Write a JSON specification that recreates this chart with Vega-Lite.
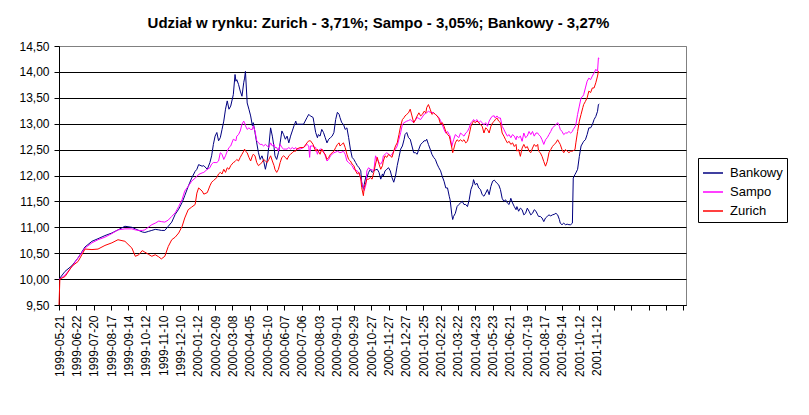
{
  "$schema": "https://vega.github.io/schema/vega-lite/v6.json",
  "description": "Market share index lines for Bankowy, Sampo and Zurich, May 1999 - Nov 2001.",
  "autosize": {"type": "none"},
  "width": 627,
  "height": 259,
  "padding": {"left": 59, "top": 46, "right": 123, "bottom": 110},
  "background": "white",
  "config": {
    "font": "Liberation Sans",
    "view": {"stroke": "#808080", "strokeWidth": 1},
    "axis": {"labelColor": "black", "labelFontSize": 12, "domainColor": "black", "tickColor": "black", "tickSize": 5, "title": null}
  },
  "title": {
    "text": "Udział w rynku: Zurich - 3,71%; Sampo - 3,05%; Bankowy - 3,27%",
    "fontSize": 15,
    "fontWeight": "bold",
    "color": "black",
    "anchor": "middle",
    "dx": 6,
    "offset": 9
  },
  "data": {
    "values": [
      {"day": 0, "Bankowy": 10.0, "Sampo": 10.0, "Zurich": 9.5},
      {"day": 1, "Bankowy": 10.02, "Sampo": 10.0, "Zurich": 10.0},
      {"day": 7, "Bankowy": 10.15, "Sampo": 10.08, "Zurich": 10.05},
      {"day": 15, "Bankowy": 10.26, "Sampo": 10.24, "Zurich": 10.25},
      {"day": 22, "Bankowy": 10.41, "Sampo": 10.41, "Zurich": 10.34},
      {"day": 30, "Bankowy": 10.62, "Sampo": 10.6, "Zurich": 10.58},
      {"day": 38, "Bankowy": 10.73, "Sampo": 10.7, "Zurich": 10.57},
      {"day": 45, "Bankowy": 10.78, "Sampo": 10.76, "Zurich": 10.58},
      {"day": 53, "Bankowy": 10.84, "Sampo": 10.81, "Zurich": 10.65},
      {"day": 61, "Bankowy": 10.89, "Sampo": 10.88, "Zurich": 10.7},
      {"day": 68, "Bankowy": 10.95, "Sampo": 10.95, "Zurich": 10.76},
      {"day": 76, "Bankowy": 11.02, "Sampo": 10.97, "Zurich": 10.73},
      {"day": 84, "Bankowy": 11.0, "Sampo": 10.97, "Zurich": 10.6},
      {"day": 88, "Bankowy": 10.97, "Sampo": 10.95, "Zurich": 10.44},
      {"day": 92, "Bankowy": 10.94, "Sampo": 10.94, "Zurich": 10.47},
      {"day": 96, "Bankowy": 10.91, "Sampo": 10.94, "Zurich": 10.55},
      {"day": 99, "Bankowy": 10.9, "Sampo": 10.95, "Zurich": 10.52},
      {"day": 103, "Bankowy": 10.92, "Sampo": 11.0, "Zurich": 10.48},
      {"day": 107, "Bankowy": 10.94, "Sampo": 11.05, "Zurich": 10.44},
      {"day": 111, "Bankowy": 10.96, "Sampo": 11.08, "Zurich": 10.47},
      {"day": 115, "Bankowy": 10.95, "Sampo": 11.12, "Zurich": 10.43},
      {"day": 118, "Bankowy": 10.94, "Sampo": 11.11, "Zurich": 10.39},
      {"day": 122, "Bankowy": 10.94, "Sampo": 11.1, "Zurich": 10.44},
      {"day": 126, "Bankowy": 11.02, "Sampo": 11.14, "Zurich": 10.63},
      {"day": 130, "Bankowy": 11.1, "Sampo": 11.21, "Zurich": 10.76},
      {"day": 134, "Bankowy": 11.25, "Sampo": 11.28, "Zurich": 10.81},
      {"day": 138, "Bankowy": 11.35, "Sampo": 11.4, "Zurich": 10.89},
      {"day": 142, "Bankowy": 11.48, "Sampo": 11.54, "Zurich": 11.02},
      {"day": 145, "Bankowy": 11.61, "Sampo": 11.7, "Zurich": 11.18},
      {"day": 149, "Bankowy": 11.79, "Sampo": 11.79, "Zurich": 11.34},
      {"day": 153, "Bankowy": 11.95, "Sampo": 11.89, "Zurich": 11.39},
      {"day": 157, "Bankowy": 12.08, "Sampo": 11.95, "Zurich": 11.44},
      {"day": 159, "Bankowy": 12.12, "Sampo": 11.98, "Zurich": 11.66},
      {"day": 161, "Bankowy": 12.21, "Sampo": 12.02, "Zurich": 11.76},
      {"day": 165, "Bankowy": 12.18, "Sampo": 12.05, "Zurich": 11.7},
      {"day": 167, "Bankowy": 12.19, "Sampo": 12.06, "Zurich": 11.64},
      {"day": 171, "Bankowy": 12.12, "Sampo": 12.12, "Zurich": 11.67},
      {"day": 174, "Bankowy": 12.25, "Sampo": 12.15, "Zurich": 11.8},
      {"day": 176, "Bankowy": 12.38, "Sampo": 12.22, "Zurich": 11.87},
      {"day": 178, "Bankowy": 12.6, "Sampo": 12.25, "Zurich": 11.9},
      {"day": 180, "Bankowy": 12.76, "Sampo": 12.25, "Zurich": 11.93},
      {"day": 182, "Bankowy": 12.83, "Sampo": 12.25, "Zurich": 11.96},
      {"day": 184, "Bankowy": 12.67, "Sampo": 12.28, "Zurich": 12.03},
      {"day": 186, "Bankowy": 12.73, "Sampo": 12.44, "Zurich": 12.06},
      {"day": 188, "Bankowy": 12.89, "Sampo": 12.41, "Zurich": 12.03},
      {"day": 190, "Bankowy": 13.05, "Sampo": 12.31, "Zurich": 12.12},
      {"day": 192, "Bankowy": 13.28, "Sampo": 12.38, "Zurich": 12.06},
      {"day": 194, "Bankowy": 13.44, "Sampo": 12.47, "Zurich": 12.15},
      {"day": 196, "Bankowy": 13.28, "Sampo": 12.54, "Zurich": 12.12},
      {"day": 198, "Bankowy": 13.34, "Sampo": 12.57, "Zurich": 12.19},
      {"day": 201, "Bankowy": 13.56, "Sampo": 12.7, "Zurich": 12.25},
      {"day": 203, "Bankowy": 13.95, "Sampo": 12.68, "Zurich": 12.27},
      {"day": 204, "Bankowy": 13.82, "Sampo": 12.67, "Zurich": 12.29},
      {"day": 205, "Bankowy": 13.85, "Sampo": 12.76, "Zurich": 12.31},
      {"day": 207, "Bankowy": 13.76, "Sampo": 12.79, "Zurich": 12.28},
      {"day": 209, "Bankowy": 13.63, "Sampo": 12.86, "Zurich": 12.35},
      {"day": 211, "Bankowy": 13.53, "Sampo": 12.99, "Zurich": 12.41},
      {"day": 213, "Bankowy": 13.79, "Sampo": 13.05, "Zurich": 12.47},
      {"day": 214, "Bankowy": 13.88, "Sampo": 13.02, "Zurich": 12.51},
      {"day": 215, "Bankowy": 14.01, "Sampo": 12.96, "Zurich": 12.47},
      {"day": 217, "Bankowy": 13.4, "Sampo": 12.89, "Zurich": 12.44},
      {"day": 219, "Bankowy": 13.28, "Sampo": 12.92, "Zurich": 12.35},
      {"day": 221, "Bankowy": 13.15, "Sampo": 12.89, "Zurich": 12.28},
      {"day": 223, "Bankowy": 12.96, "Sampo": 12.89, "Zurich": 12.38},
      {"day": 224, "Bankowy": 13.02, "Sampo": 12.96, "Zurich": 12.41},
      {"day": 226, "Bankowy": 12.83, "Sampo": 12.86, "Zurich": 12.38},
      {"day": 228, "Bankowy": 12.63, "Sampo": 12.67, "Zurich": 12.25},
      {"day": 230, "Bankowy": 12.44, "Sampo": 12.63, "Zurich": 12.19},
      {"day": 232, "Bankowy": 12.31, "Sampo": 12.6, "Zurich": 12.22},
      {"day": 234, "Bankowy": 12.38, "Sampo": 12.6, "Zurich": 12.25},
      {"day": 236, "Bankowy": 12.28, "Sampo": 12.57, "Zurich": 12.31},
      {"day": 238, "Bankowy": 12.12, "Sampo": 12.6, "Zurich": 12.28},
      {"day": 240, "Bankowy": 12.28, "Sampo": 12.57, "Zurich": 12.25},
      {"day": 242, "Bankowy": 12.57, "Sampo": 12.54, "Zurich": 12.31},
      {"day": 244, "Bankowy": 12.92, "Sampo": 12.63, "Zurich": 12.38},
      {"day": 246, "Bankowy": 12.76, "Sampo": 12.57, "Zurich": 12.28},
      {"day": 248, "Bankowy": 12.54, "Sampo": 12.6, "Zurich": 12.19},
      {"day": 249, "Bankowy": 12.38, "Sampo": 12.54, "Zurich": 12.12},
      {"day": 251, "Bankowy": 12.31, "Sampo": 12.54, "Zurich": 12.06},
      {"day": 253, "Bankowy": 12.44, "Sampo": 12.47, "Zurich": 12.12},
      {"day": 255, "Bankowy": 12.63, "Sampo": 12.6, "Zurich": 12.25},
      {"day": 257, "Bankowy": 12.86, "Sampo": 12.54, "Zurich": 12.35},
      {"day": 259, "Bankowy": 12.79, "Sampo": 12.51, "Zurich": 12.38},
      {"day": 261, "Bankowy": 12.7, "Sampo": 12.51, "Zurich": 12.35},
      {"day": 263, "Bankowy": 12.76, "Sampo": 12.51, "Zurich": 12.31},
      {"day": 265, "Bankowy": 12.63, "Sampo": 12.54, "Zurich": 12.38},
      {"day": 267, "Bankowy": 12.76, "Sampo": 12.51, "Zurich": 12.41},
      {"day": 269, "Bankowy": 12.86, "Sampo": 12.54, "Zurich": 12.44},
      {"day": 271, "Bankowy": 12.96, "Sampo": 12.51, "Zurich": 12.47},
      {"day": 273, "Bankowy": 13.05, "Sampo": 12.54, "Zurich": 12.47},
      {"day": 274, "Bankowy": 12.99, "Sampo": 12.51, "Zurich": 12.51},
      {"day": 278, "Bankowy": 12.99, "Sampo": 12.51, "Zurich": 12.54},
      {"day": 282, "Bankowy": 12.99, "Sampo": 12.54, "Zurich": 12.54},
      {"day": 286, "Bankowy": 13.12, "Sampo": 12.6, "Zurich": 12.63},
      {"day": 288, "Bankowy": 13.18, "Sampo": 12.57, "Zurich": 12.67},
      {"day": 289, "Bankowy": 13.16, "Sampo": 12.35, "Zurich": 12.67},
      {"day": 290, "Bankowy": 13.15, "Sampo": 12.57, "Zurich": 12.67},
      {"day": 293, "Bankowy": 13.12, "Sampo": 12.57, "Zurich": 12.6},
      {"day": 294, "Bankowy": 13.02, "Sampo": 12.55, "Zurich": 12.55},
      {"day": 296, "Bankowy": 12.83, "Sampo": 12.54, "Zurich": 12.47},
      {"day": 298, "Bankowy": 12.73, "Sampo": 12.41, "Zurich": 12.51},
      {"day": 299, "Bankowy": 12.79, "Sampo": 12.47, "Zurich": 12.47},
      {"day": 301, "Bankowy": 12.76, "Sampo": 12.51, "Zurich": 12.41},
      {"day": 303, "Bankowy": 12.89, "Sampo": 12.51, "Zurich": 12.51},
      {"day": 305, "Bankowy": 12.83, "Sampo": 12.47, "Zurich": 12.44},
      {"day": 307, "Bankowy": 12.73, "Sampo": 12.38, "Zurich": 12.41},
      {"day": 309, "Bankowy": 12.63, "Sampo": 12.28, "Zurich": 12.31},
      {"day": 311, "Bankowy": 12.7, "Sampo": 12.31, "Zurich": 12.35},
      {"day": 313, "Bankowy": 12.73, "Sampo": 12.38, "Zurich": 12.41},
      {"day": 315, "Bankowy": 12.76, "Sampo": 12.41, "Zurich": 12.44},
      {"day": 317, "Bankowy": 12.83, "Sampo": 12.44, "Zurich": 12.47},
      {"day": 319, "Bankowy": 13.08, "Sampo": 12.45, "Zurich": 12.54},
      {"day": 321, "Bankowy": 13.22, "Sampo": 12.47, "Zurich": 12.6},
      {"day": 323, "Bankowy": 13.18, "Sampo": 12.45, "Zurich": 12.63},
      {"day": 324, "Bankowy": 13.12, "Sampo": 12.44, "Zurich": 12.57},
      {"day": 326, "Bankowy": 13.02, "Sampo": 12.45, "Zurich": 12.6},
      {"day": 328, "Bankowy": 12.99, "Sampo": 12.47, "Zurich": 12.63},
      {"day": 330, "Bankowy": 12.89, "Sampo": 12.41, "Zurich": 12.54},
      {"day": 332, "Bankowy": 12.92, "Sampo": 12.28, "Zurich": 12.41},
      {"day": 334, "Bankowy": 12.73, "Sampo": 12.25, "Zurich": 12.31},
      {"day": 336, "Bankowy": 12.51, "Sampo": 12.22, "Zurich": 12.28},
      {"day": 338, "Bankowy": 12.35, "Sampo": 12.19, "Zurich": 12.22},
      {"day": 340, "Bankowy": 12.31, "Sampo": 12.12, "Zurich": 12.19},
      {"day": 342, "Bankowy": 12.25, "Sampo": 12.1, "Zurich": 12.09},
      {"day": 344, "Bankowy": 12.19, "Sampo": 12.09, "Zurich": 12.03},
      {"day": 346, "Bankowy": 12.15, "Sampo": 12.03, "Zurich": 12.06},
      {"day": 348, "Bankowy": 12.09, "Sampo": 11.96, "Zurich": 11.93},
      {"day": 349, "Bankowy": 11.87, "Sampo": 11.87, "Zurich": 11.77},
      {"day": 351, "Bankowy": 11.74, "Sampo": 11.77, "Zurich": 11.61},
      {"day": 352, "Bankowy": 11.83, "Sampo": 11.71, "Zurich": 11.77},
      {"day": 354, "Bankowy": 11.99, "Sampo": 11.83, "Zurich": 11.87},
      {"day": 355, "Bankowy": 11.96, "Sampo": 12.09, "Zurich": 11.93},
      {"day": 357, "Bankowy": 12.06, "Sampo": 12.15, "Zurich": 11.93},
      {"day": 359, "Bankowy": 12.12, "Sampo": 12.12, "Zurich": 11.96},
      {"day": 361, "Bankowy": 12.06, "Sampo": 12.11, "Zurich": 11.93},
      {"day": 363, "Bankowy": 12.09, "Sampo": 12.09, "Zurich": 12.06},
      {"day": 365, "Bankowy": 12.11, "Sampo": 12.38, "Zurich": 12.22},
      {"day": 367, "Bankowy": 12.12, "Sampo": 12.31, "Zurich": 12.35},
      {"day": 369, "Bankowy": 12.06, "Sampo": 12.25, "Zurich": 12.22},
      {"day": 371, "Bankowy": 11.93, "Sampo": 12.22, "Zurich": 12.12},
      {"day": 373, "Bankowy": 12.03, "Sampo": 12.28, "Zurich": 12.19},
      {"day": 374, "Bankowy": 11.99, "Sampo": 12.38, "Zurich": 12.28},
      {"day": 376, "Bankowy": 12.09, "Sampo": 12.41, "Zurich": 12.38},
      {"day": 378, "Bankowy": 12.12, "Sampo": 12.44, "Zurich": 12.35},
      {"day": 380, "Bankowy": 12.15, "Sampo": 12.41, "Zurich": 12.41},
      {"day": 382, "Bankowy": 12.09, "Sampo": 12.38, "Zurich": 12.38},
      {"day": 384, "Bankowy": 11.96, "Sampo": 12.41, "Zurich": 12.35},
      {"day": 386, "Bankowy": 11.87, "Sampo": 12.47, "Zurich": 12.47},
      {"day": 388, "Bankowy": 11.99, "Sampo": 12.51, "Zurich": 12.57},
      {"day": 390, "Bankowy": 12.19, "Sampo": 12.57, "Zurich": 12.63},
      {"day": 392, "Bankowy": 12.35, "Sampo": 12.7, "Zurich": 12.79},
      {"day": 394, "Bankowy": 12.51, "Sampo": 12.83, "Zurich": 12.96},
      {"day": 396, "Bankowy": 12.57, "Sampo": 12.99, "Zurich": 13.08},
      {"day": 398, "Bankowy": 12.7, "Sampo": 13.02, "Zurich": 13.12},
      {"day": 399, "Bankowy": 12.79, "Sampo": 13.03, "Zurich": 13.15},
      {"day": 401, "Bankowy": 12.83, "Sampo": 13.05, "Zurich": 13.18},
      {"day": 403, "Bankowy": 12.73, "Sampo": 13.06, "Zurich": 13.21},
      {"day": 405, "Bankowy": 12.7, "Sampo": 13.08, "Zurich": 13.28},
      {"day": 407, "Bankowy": 12.57, "Sampo": 13.05, "Zurich": 13.15},
      {"day": 409, "Bankowy": 12.44, "Sampo": 13.02, "Zurich": 13.02},
      {"day": 411, "Bankowy": 12.44, "Sampo": 13.07, "Zurich": 13.08},
      {"day": 413, "Bankowy": 12.41, "Sampo": 13.12, "Zurich": 13.15},
      {"day": 415, "Bankowy": 12.51, "Sampo": 13.1, "Zurich": 13.21},
      {"day": 417, "Bankowy": 12.6, "Sampo": 13.08, "Zurich": 13.15},
      {"day": 419, "Bankowy": 12.63, "Sampo": 13.13, "Zurich": 13.18},
      {"day": 421, "Bankowy": 12.67, "Sampo": 13.18, "Zurich": 13.24},
      {"day": 423, "Bankowy": 12.67, "Sampo": 13.2, "Zurich": 13.21},
      {"day": 424, "Bankowy": 12.7, "Sampo": 13.21, "Zurich": 13.31},
      {"day": 426, "Bankowy": 12.6, "Sampo": 13.24, "Zurich": 13.37},
      {"day": 428, "Bankowy": 12.51, "Sampo": 13.22, "Zurich": 13.28},
      {"day": 430, "Bankowy": 12.41, "Sampo": 13.22, "Zurich": 13.18},
      {"day": 432, "Bankowy": 12.35, "Sampo": 13.21, "Zurich": 13.21},
      {"day": 434, "Bankowy": 12.31, "Sampo": 13.18, "Zurich": 13.18},
      {"day": 436, "Bankowy": 12.22, "Sampo": 13.15, "Zurich": 13.15},
      {"day": 438, "Bankowy": 12.15, "Sampo": 13.12, "Zurich": 13.1},
      {"day": 440, "Bankowy": 12.09, "Sampo": 13.06, "Zurich": 12.99},
      {"day": 442, "Bankowy": 11.98, "Sampo": 12.98, "Zurich": 13.02},
      {"day": 444, "Bankowy": 11.89, "Sampo": 12.89, "Zurich": 12.95},
      {"day": 446, "Bankowy": 11.76, "Sampo": 12.82, "Zurich": 12.85},
      {"day": 448, "Bankowy": 11.76, "Sampo": 12.85, "Zurich": 12.79},
      {"day": 450, "Bankowy": 11.6, "Sampo": 12.79, "Zurich": 12.76},
      {"day": 451, "Bankowy": 11.53, "Sampo": 12.76, "Zurich": 12.69},
      {"day": 453, "Bankowy": 11.24, "Sampo": 12.56, "Zurich": 12.53},
      {"day": 454, "Bankowy": 11.15, "Sampo": 12.63, "Zurich": 12.44},
      {"day": 455, "Bankowy": 11.21, "Sampo": 12.69, "Zurich": 12.5},
      {"day": 457, "Bankowy": 11.27, "Sampo": 12.79, "Zurich": 12.63},
      {"day": 459, "Bankowy": 11.4, "Sampo": 12.76, "Zurich": 12.69},
      {"day": 461, "Bankowy": 11.44, "Sampo": 12.73, "Zurich": 12.66},
      {"day": 463, "Bankowy": 11.47, "Sampo": 12.82, "Zurich": 12.69},
      {"day": 465, "Bankowy": 11.5, "Sampo": 12.79, "Zurich": 12.66},
      {"day": 467, "Bankowy": 11.44, "Sampo": 12.76, "Zurich": 12.69},
      {"day": 469, "Bankowy": 11.44, "Sampo": 12.82, "Zurich": 12.63},
      {"day": 471, "Bankowy": 11.4, "Sampo": 12.85, "Zurich": 12.66},
      {"day": 473, "Bankowy": 11.53, "Sampo": 12.92, "Zurich": 12.79},
      {"day": 475, "Bankowy": 11.73, "Sampo": 13.02, "Zurich": 12.95},
      {"day": 477, "Bankowy": 11.82, "Sampo": 13.05, "Zurich": 13.02},
      {"day": 478, "Bankowy": 11.92, "Sampo": 13.08, "Zurich": 13.05},
      {"day": 480, "Bankowy": 11.82, "Sampo": 13.05, "Zurich": 13.02},
      {"day": 482, "Bankowy": 11.85, "Sampo": 13.08, "Zurich": 13.05},
      {"day": 484, "Bankowy": 11.76, "Sampo": 13.02, "Zurich": 13.02},
      {"day": 486, "Bankowy": 11.73, "Sampo": 13.05, "Zurich": 12.98},
      {"day": 488, "Bankowy": 11.63, "Sampo": 13.02, "Zurich": 12.95},
      {"day": 490, "Bankowy": 11.6, "Sampo": 12.98, "Zurich": 12.82},
      {"day": 492, "Bankowy": 11.66, "Sampo": 13.02, "Zurich": 12.92},
      {"day": 494, "Bankowy": 11.73, "Sampo": 12.95, "Zurich": 12.89},
      {"day": 496, "Bankowy": 11.63, "Sampo": 13.05, "Zurich": 12.82},
      {"day": 498, "Bankowy": 11.79, "Sampo": 13.11, "Zurich": 12.95},
      {"day": 500, "Bankowy": 11.89, "Sampo": 13.15, "Zurich": 13.02},
      {"day": 502, "Bankowy": 11.91, "Sampo": 13.15, "Zurich": 13.05},
      {"day": 503, "Bankowy": 11.89, "Sampo": 13.11, "Zurich": 13.08},
      {"day": 505, "Bankowy": 11.85, "Sampo": 13.15, "Zurich": 13.11},
      {"day": 507, "Bankowy": 11.82, "Sampo": 13.11, "Zurich": 13.05},
      {"day": 509, "Bankowy": 11.73, "Sampo": 13.11, "Zurich": 13.02},
      {"day": 511, "Bankowy": 11.56, "Sampo": 12.95, "Zurich": 12.82},
      {"day": 513, "Bankowy": 11.5, "Sampo": 12.89, "Zurich": 12.76},
      {"day": 515, "Bankowy": 11.53, "Sampo": 12.82, "Zurich": 12.69},
      {"day": 517, "Bankowy": 11.47, "Sampo": 12.76, "Zurich": 12.63},
      {"day": 519, "Bankowy": 11.44, "Sampo": 12.79, "Zurich": 12.66},
      {"day": 521, "Bankowy": 11.56, "Sampo": 12.73, "Zurich": 12.6},
      {"day": 523, "Bankowy": 11.47, "Sampo": 12.79, "Zurich": 12.63},
      {"day": 525, "Bankowy": 11.4, "Sampo": 12.76, "Zurich": 12.56},
      {"day": 527, "Bankowy": 11.34, "Sampo": 12.69, "Zurich": 12.6},
      {"day": 528, "Bankowy": 11.4, "Sampo": 12.76, "Zurich": 12.47},
      {"day": 530, "Bankowy": 11.31, "Sampo": 12.73, "Zurich": 12.5},
      {"day": 532, "Bankowy": 11.37, "Sampo": 12.76, "Zurich": 12.37},
      {"day": 534, "Bankowy": 11.34, "Sampo": 12.66, "Zurich": 12.53},
      {"day": 536, "Bankowy": 11.24, "Sampo": 12.82, "Zurich": 12.6},
      {"day": 538, "Bankowy": 11.27, "Sampo": 12.73, "Zurich": 12.53},
      {"day": 540, "Bankowy": 11.37, "Sampo": 12.76, "Zurich": 12.56},
      {"day": 542, "Bankowy": 11.31, "Sampo": 12.85, "Zurich": 12.47},
      {"day": 544, "Bankowy": 11.24, "Sampo": 12.79, "Zurich": 12.44},
      {"day": 546, "Bankowy": 11.27, "Sampo": 12.85, "Zurich": 12.53},
      {"day": 548, "Bankowy": 11.34, "Sampo": 12.76, "Zurich": 12.6},
      {"day": 550, "Bankowy": 11.31, "Sampo": 12.82, "Zurich": 12.56},
      {"day": 552, "Bankowy": 11.24, "Sampo": 12.82, "Zurich": 12.6},
      {"day": 553, "Bankowy": 11.21, "Sampo": 12.79, "Zurich": 12.47},
      {"day": 555, "Bankowy": 11.21, "Sampo": 12.76, "Zurich": 12.44},
      {"day": 557, "Bankowy": 11.18, "Sampo": 12.69, "Zurich": 12.37},
      {"day": 559, "Bankowy": 11.11, "Sampo": 12.6, "Zurich": 12.27},
      {"day": 561, "Bankowy": 11.18, "Sampo": 12.69, "Zurich": 12.18},
      {"day": 563, "Bankowy": 11.21, "Sampo": 12.73, "Zurich": 12.27},
      {"day": 565, "Bankowy": 11.24, "Sampo": 12.79, "Zurich": 12.44},
      {"day": 567, "Bankowy": 11.22, "Sampo": 12.85, "Zurich": 12.5},
      {"day": 569, "Bankowy": 11.24, "Sampo": 12.92, "Zurich": 12.56},
      {"day": 571, "Bankowy": 11.25, "Sampo": 12.95, "Zurich": 12.6},
      {"day": 573, "Bankowy": 11.27, "Sampo": 12.98, "Zurich": 12.63},
      {"day": 575, "Bankowy": 11.24, "Sampo": 13.02, "Zurich": 12.69},
      {"day": 577, "Bankowy": 11.15, "Sampo": 12.95, "Zurich": 12.63},
      {"day": 578, "Bankowy": 11.08, "Sampo": 12.89, "Zurich": 12.6},
      {"day": 580, "Bankowy": 11.05, "Sampo": 12.85, "Zurich": 12.5},
      {"day": 582, "Bankowy": 11.08, "Sampo": 12.79, "Zurich": 12.44},
      {"day": 584, "Bankowy": 11.05, "Sampo": 12.82, "Zurich": 12.5},
      {"day": 586, "Bankowy": 11.06, "Sampo": 12.82, "Zurich": 12.47},
      {"day": 588, "Bankowy": 11.05, "Sampo": 12.85, "Zurich": 12.44},
      {"day": 590, "Bankowy": 11.05, "Sampo": 12.82, "Zurich": 12.47},
      {"day": 592, "Bankowy": 11.08, "Sampo": 12.85, "Zurich": 12.47},
      {"day": 593, "Bankowy": 11.95, "Sampo": 12.89, "Zurich": 12.48},
      {"day": 595, "Bankowy": 12.02, "Sampo": 12.94, "Zurich": 12.5},
      {"day": 596, "Bankowy": 12.05, "Sampo": 12.98, "Zurich": 12.63},
      {"day": 598, "Bankowy": 12.12, "Sampo": 13.18, "Zurich": 12.85},
      {"day": 600, "Bankowy": 12.37, "Sampo": 13.34, "Zurich": 13.05},
      {"day": 602, "Bankowy": 12.57, "Sampo": 13.5, "Zurich": 13.18},
      {"day": 604, "Bankowy": 12.63, "Sampo": 13.53, "Zurich": 13.31},
      {"day": 605, "Bankowy": 12.66, "Sampo": 13.56, "Zurich": 13.37},
      {"day": 607, "Bankowy": 12.69, "Sampo": 13.69, "Zurich": 13.43},
      {"day": 609, "Bankowy": 12.79, "Sampo": 13.82, "Zurich": 13.5},
      {"day": 611, "Bankowy": 12.92, "Sampo": 13.88, "Zurich": 13.63},
      {"day": 613, "Bankowy": 12.92, "Sampo": 13.85, "Zurich": 13.6},
      {"day": 615, "Bankowy": 12.98, "Sampo": 13.92, "Zurich": 13.69},
      {"day": 617, "Bankowy": 13.08, "Sampo": 13.98, "Zurich": 13.69},
      {"day": 619, "Bankowy": 13.14, "Sampo": 14.05, "Zurich": 13.79},
      {"day": 621, "Bankowy": 13.24, "Sampo": 14.01, "Zurich": 13.92},
      {"day": 622, "Bankowy": 13.37, "Sampo": 14.27, "Zurich": 14.01},
      {"day": 623, "Bankowy": 13.38, "Sampo": 14.26, "Zurich": 13.98}
    ]
  },
  "transform": [
    {"fold": ["Bankowy", "Sampo", "Zurich"], "as": ["series", "value"]}
  ],
  "mark": {"type": "line", "strokeWidth": 1, "interpolate": "linear", "invalid": "filter"},
  "encoding": {
    "x": {
      "field": "day",
      "type": "quantitative",
      "scale": {"domain": [0, 723], "nice": false, "zero": false},
      "axis": {
        "values": [0, 20, 40, 60, 80, 100, 120, 140, 160, 180, 200, 220, 240, 260, 280, 300, 320, 340, 360, 380, 400, 420, 440, 460, 480, 500, 520, 540, 560, 580, 600, 620, 640, 660, 680, 700, 720],
        "labelExpr": "datum.value <= 620 ? ['1999-05-21','1999-06-22','1999-07-20','1999-08-17','1999-09-14','1999-10-12','1999-11-10','1999-12-10','2000-01-12','2000-02-09','2000-03-08','2000-04-05','2000-05-10','2000-06-07','2000-07-06','2000-08-03','2000-09-01','2000-09-29','2000-10-27','2000-11-27','2000-12-27','2001-01-25','2001-02-22','2001-03-22','2001-04-23','2001-05-23','2001-06-21','2001-07-19','2001-08-17','2001-09-14','2001-10-12','2001-11-12'][round(datum.value / 20)] : ''",
        "labelAngle": 270,
        "labelAlign": "right",
        "labelBaseline": "middle",
        "labelPadding": 5,
        "labelOverlap": false,
        "labelFlush": false,
        "grid": false
      }
    },
    "y": {
      "field": "value",
      "type": "quantitative",
      "scale": {"domain": [9.5, 14.5], "nice": false, "zero": false},
      "axis": {
        "values": [9.5, 10, 10.5, 11, 11.5, 12, 12.5, 13, 13.5, 14, 14.5],
        "labelExpr": "replace(format(datum.value, '.2f'), '.', ',')",
        "labelPadding": 5,
        "labelFlush": false,
        "grid": true,
        "gridColor": {"condition": {"test": "datum.value >= 14.5", "value": "#808080"}, "value": "black"},
        "gridWidth": 1
      }
    },
    "color": {
      "field": "series",
      "type": "nominal",
      "scale": {"domain": ["Bankowy", "Sampo", "Zurich"], "range": ["#000080", "#FF00FF", "#FF0000"]},
      "legend": {
        "title": null,
        "orient": "none",
        "legendX": 639,
        "legendY": 112,
        "strokeColor": "black",
        "fillColor": "white",
        "padding": 4,
        "symbolType": "stroke",
        "symbolSize": 400,
        "symbolStrokeWidth": 1.5,
        "labelFontSize": 13,
        "labelColor": "black",
        "labelOffset": 6,
        "rowPadding": 1
      }
    }
  }
}
